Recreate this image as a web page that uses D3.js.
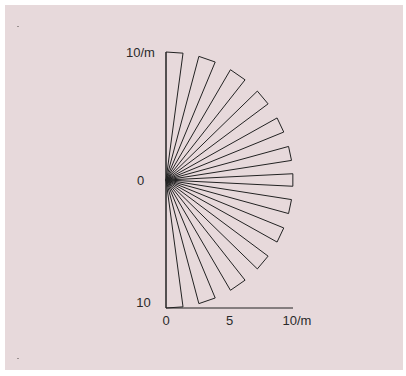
<!DOCTYPE html>
<html>
<head>
<meta charset="UTF-8">
<title>Wedge fan</title>
<style>
  body { margin: 0; background: #fff; }
  text.tick { font-family: "Liberation Sans", Arial, sans-serif; font-size: 13px; fill: #2a2a2a; }
</style>
<script src="https://d3js.org/d3.v7.min.js"></script>
</head>
<body>
<div id="chart"></div>
<script>
// wedge edges, degrees clockwise from north, radius in metres
const wedgeStart = [0, 15, 30.5, 46, 61, 74.8, 87.2, 98.8, 112, 126.5, 141.5, 157.2, 172.3];
const wedgeEnd   = [7.7, 22.8, 38.5, 53.5, 68, 81.2, 92.8, 105.2, 119, 134, 149.5, 165, 180];
const wedgeLen   = [10, 10, 10, 10, 10, 10, 10, 10, 10, 10, 10, 10, 10];

const xTicks = [0, 5, 10];
const xTickLabels = ["0", "5", "10/m"];
const yTicks = [10, 0, -10];
const yTickLabels = ["10/m", "0", "10"];

const W = 406, H = 376;
const svg = d3.select("#chart").append("svg")
  .attr("width", W).attr("height", H);

svg.append("rect")
  .attr("x", 5).attr("y", 5)
  .attr("width", 398).attr("height", 365)
  .attr("fill", "#e7d9db");

// tiny marks at left edge
svg.selectAll(".dot").data([26, 358]).enter().append("rect")
  .attr("x", 17).attr("y", d => d)
  .attr("width", 2).attr("height", 1)
  .attr("fill", "#9a9090");

const x = d3.scaleLinear().domain([0, 10]).range([166, 293]);
const y = d3.scaleLinear().domain([-10, 10]).range([308, 52]);

const pt = (deg, r) => {
  const a = deg * Math.PI / 180;
  return [x(r * Math.sin(a)), y(r * Math.cos(a))];
};

svg.selectAll(".wedge")
  .data(wedgeStart.map((s, i) => ({ s: s, e: wedgeEnd[i], r: wedgeLen[i] })))
  .enter().append("path")
    .attr("class", "wedge")
    .attr("d", d => "M" + pt(0, 0) + "L" + pt(d.s, d.r) + "L" + pt(d.e, d.r) + "Z")
    .attr("fill", "none")
    .attr("stroke", "#222")
    .attr("stroke-width", 1)
    .attr("stroke-linejoin", "miter");

// axes
svg.append("line")
  .attr("x1", x(0)).attr("x2", x(0))
  .attr("y1", y(10)).attr("y2", y(-10))
  .attr("stroke", "#222");
svg.append("line")
  .attr("x1", x(0)).attr("x2", x(10))
  .attr("y1", y(-10)).attr("y2", y(-10))
  .attr("stroke", "#222");

svg.selectAll(".xlab").data(xTicks).enter().append("text")
  .attr("class", "tick")
  .attr("x", (d, i) => x(d) + (i == 2 ? 4 : 0))
  .attr("y", y(-10) + 17)
  .attr("text-anchor", "middle")
  .text((d, i) => xTickLabels[i]);

svg.selectAll(".ylab").data(yTicks).enter().append("text")
  .attr("class", "tick")
  .attr("x", (d, i) => i == 2 ? 143.5 : 140.5)
  .attr("y", (d, i) => y(d) + (i == 2 ? -1.5 : 5))
  .attr("text-anchor", "middle")
  .text((d, i) => yTickLabels[i]);
</script>
</body>
</html>
